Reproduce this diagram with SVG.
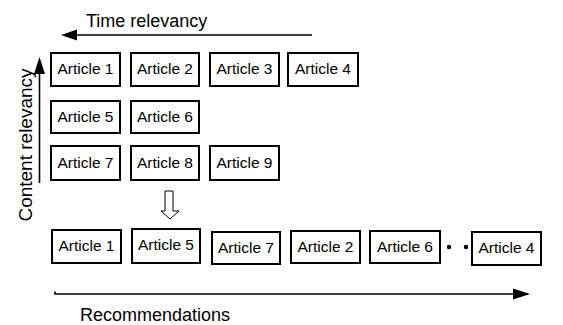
<svg xmlns="http://www.w3.org/2000/svg" width="563" height="325" viewBox="0 0 563 325">
<defs>
<style>
.box{fill:#fff;stroke:#000;stroke-width:2}
.lbl{font-family:"Liberation Sans",Arial,sans-serif;font-size:15.5px;fill:#000;text-anchor:middle}
.ax{font-family:"Liberation Sans",Arial,sans-serif;font-size:18px;fill:#000}
.ln{fill:none;stroke:#000;stroke-width:1.6}
</style>
</defs>
<rect width="563" height="325" fill="#fff"/>
<g id="connectors">
<path class="ln" d="M312 35 H76"/>
<polygon points="61,35 77,29.5 77,40.5" fill="#000"/>
<path class="ln" d="M39.5 183 V72"/>
<polygon points="39.5,57 34,74 45,74" fill="#000"/>
<path class="ln" d="M55 291.5 V294 H515"/>
<polygon points="530,294 513,288.5 513,299.5" fill="#000"/>
<path d="M165 191 H173 V211 H179 L170 219 L161 211 H165 Z" fill="#fff" stroke="#000" stroke-width="1"/>
<circle cx="449" cy="247" r="2.2" fill="#000"/>
<circle cx="466" cy="247" r="2.2" fill="#000"/>
</g>
<text class="ax" x="86" y="27">Time relevancy</text>
<text class="ax" x="0" y="0" text-anchor="middle" transform="translate(32 145) rotate(-90)" style="font-size:19px">Content relevancy</text>
<text class="ax" x="80" y="321">Recommendations</text>
<g id="a1"><rect class="box" x="51" y="53" width="69" height="33"/><text class="lbl" x="85.5" y="74">Article 1</text></g>
<g id="a2"><rect class="box" x="131" y="53" width="68" height="33"/><text class="lbl" x="165" y="74">Article 2</text></g>
<g id="a3"><rect class="box" x="210" y="53" width="69" height="33"/><text class="lbl" x="244.5" y="74">Article 3</text></g>
<g id="a4"><rect class="box" x="288" y="53" width="70" height="33"/><text class="lbl" x="323" y="74">Article 4</text></g>
<g id="a5"><rect class="box" x="51" y="101" width="69" height="32"/><text class="lbl" x="85.5" y="121.5">Article 5</text></g>
<g id="a6"><rect class="box" x="131" y="101" width="68" height="32"/><text class="lbl" x="165" y="121.5">Article 6</text></g>
<g id="a7"><rect class="box" x="51" y="146" width="69" height="34"/><text class="lbl" x="85.5" y="167.5">Article 7</text></g>
<g id="a8"><rect class="box" x="131" y="146" width="68" height="34"/><text class="lbl" x="165" y="167.5">Article 8</text></g>
<g id="a9"><rect class="box" x="210" y="146" width="69" height="34"/><text class="lbl" x="244.5" y="167.5">Article 9</text></g>
<g id="r1"><rect class="box" x="52" y="230" width="69" height="33"/><text class="lbl" x="86.5" y="251">Article 1</text></g>
<g id="r2"><rect class="box" x="132" y="229" width="68" height="34"/><text class="lbl" x="166" y="249.5">Article 5</text></g>
<g id="r3"><rect class="box" x="212" y="232" width="68" height="32"/><text class="lbl" x="246" y="252.5">Article 7</text></g>
<g id="r4"><rect class="box" x="291" y="231" width="69" height="32"/><text class="lbl" x="325.5" y="251.5">Article 2</text></g>
<g id="r5"><rect class="box" x="370" y="231" width="70" height="32"/><text class="lbl" x="405" y="251.5">Article 6</text></g>
<g id="r6"><rect class="box" x="472" y="232" width="69" height="33"/><text class="lbl" x="506.5" y="253">Article 4</text></g>
</svg>
